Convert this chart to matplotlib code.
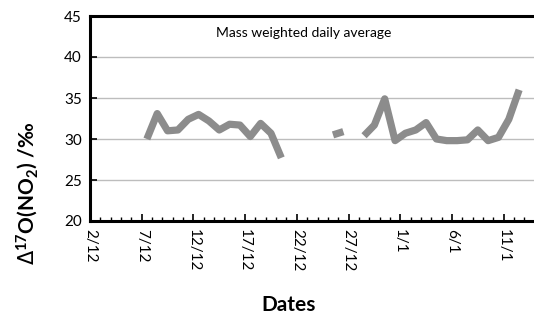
import matplotlib
matplotlib.use("Agg")
import matplotlib.pyplot as plt
import numpy as np

# days after 2/12 (samples centred at noon), nan = no data
days = [5.5, 6.5, 7.5, 8.5, 9.5, 10.5, 11.5, 12.5, 13.5, 14.5, 15.5, 16.5, 17.5, 18.5,
        19.5, 23.5, 24.5, 25.5,
        26.5, 27.5, 28.5, 29.5, 30.5, 31.5, 32.5, 33.5, 34.5, 35.5, 36.5, 37.5, 38.5,
        39.5, 40.5, 41.5]
d17o = [30.0, 33.1, 31.0, 31.1, 32.4, 33.0, 32.2, 31.1, 31.8, 31.7, 30.3, 31.9, 30.7, 27.7,
        np.nan, 30.5, 30.9, np.nan,
        30.4, 31.7, 34.9, 29.8, 30.7, 31.1, 32.0, 30.0, 29.8, 29.8, 29.9, 31.1, 29.8,
        30.2, 32.4, 36.0]
tick_days = [0, 5, 10, 15, 20, 25, 30, 35, 40]
tick_labels = ['2/12', '7/12', '12/12', '17/12', '22/12', '27/12', '1/1', '6/1', '11/1']

plt.rcParams['font.family'] = ['Lato', 'DejaVu Sans']
plt.rcParams['mathtext.default'] = 'regular'
plt.rcParams['mathtext.fontset'] = 'custom'
plt.rcParams['mathtext.it'] = 'DejaVu Sans:italic:bold'

fig = plt.figure(figsize=(5.34, 3.23), dpi=100)
ax = fig.add_axes([90/534, 102/323, 455/534, 205/323])

ax.plot(days, d17o, color='#8c8c8c', lw=5.2, solid_capstyle='butt', solid_joinstyle='round')

ax.set_xlim(0, 44)
ax.set_ylim(20, 45)
ax.set_yticks([20, 25, 30, 35, 40, 45])
ax.set_xticks(tick_days)
ax.set_xticklabels(tick_labels, rotation=270, fontsize=11)
ax.set_xticks(np.arange(0, 45, 1), minor=True)
ax.tick_params(axis='y', labelsize=11, direction='in', length=5, width=1.2, pad=6)
ax.tick_params(axis='x', which='major', direction='in', length=5, width=1.2, pad=6)
ax.tick_params(axis='x', which='minor', direction='in', length=3, width=1)
ax.grid(axis='y', color='#bdbdbd', lw=1)
ax.set_axisbelow(True)
for s in ['left', 'bottom', 'top']:
    ax.spines[s].set_linewidth(2.2)
ax.spines['right'].set_visible(False)

ax.text(0.47, 0.915, 'Mass weighted daily average', transform=ax.transAxes,
        ha='center', va='center', fontsize=10)
fig.text(0.05, 0.40, r'$\mathit{Δ}^{17}$O(NO$_2$) /‰', rotation=90, ha='center', va='center',
         fontsize=15, fontweight='bold')
fig.text(0.54, 0.055, 'Dates', ha='center', va='center', fontsize=15, fontweight='bold')

fig.savefig('out.png', dpi=100)
